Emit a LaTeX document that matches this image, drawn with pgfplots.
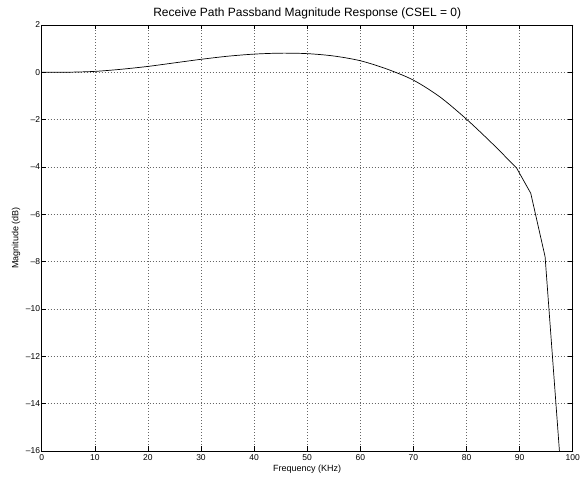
\documentclass[border=0pt]{standalone}
\usepackage{pgfplots}
\pgfplotsset{compat=1.18}
\usepackage{fontspec}
\setmainfont{Liberation Sans}
\begin{document}
\begin{tikzpicture}
\useasboundingbox (-41.7pt,-28pt) rectangle (542.3pt,451pt);
\begin{axis}[
  at={(0pt,0pt)}, anchor=south west,
  scale only axis, width=531pt, height=426pt,
  xmin=0, xmax=100, ymin=-16, ymax=2,
  xtick={0,10,...,100}, ytick={-16,-14,...,2},
  grid=major,
  major grid style={dash pattern=on 0.7pt off 2.3pt, black!60, line width=0.5pt},
  tick align=inside, tick pos=both,
  major tick length=4.5pt,
  axis line style={line width=0.8pt},
  every tick/.style={black, line width=0.6pt},
  /pgf/number format/assume math mode=true,
  yticklabel={\ifdim\tick pt<0pt \textendash\pgfmathparse{-\tick}\pgfmathprintnumber{\pgfmathresult}\else\pgfmathprintnumber{\tick}\fi},
  tick label style={font=\fontsize{8.5}{9}\selectfont},
  xticklabel style={yshift=0pt},
  yticklabel style={xshift=2pt},
  title={Receive Path Passband Magnitude Response (CSEL = 0)},
  title style={font=\fontsize{12}{13}\selectfont, yshift=-4pt},
  xlabel={Frequency (KHz)},
  ylabel={Magnitude (dB)},
  label style={font=\fontsize{9}{10}\selectfont},
  xlabel style={yshift=2pt},
  ylabel style={yshift=-1pt},
  clip=true,
]
\addplot[black, line width=0.7pt, smooth, tension=0.5] coordinates {
(0,0) (5,0.005) (10,0.04) (15,0.13) (20,0.25) (25,0.40) (30,0.55) (35,0.68)
(40,0.77) (45,0.81) (50,0.79) (55,0.69) (60,0.49) (65,0.14) (70,-0.33)
(75,-1.04) (80,-1.98) (85,-3.04) (89.45,-4.05)
};
\addplot[black, line width=0.7pt] coordinates {
(89.45,-4.05) (92.1,-5.11) (94.8,-7.79) (97.5,-16) (97.6,-16.3)
};
\end{axis}
\end{tikzpicture}
\end{document}
